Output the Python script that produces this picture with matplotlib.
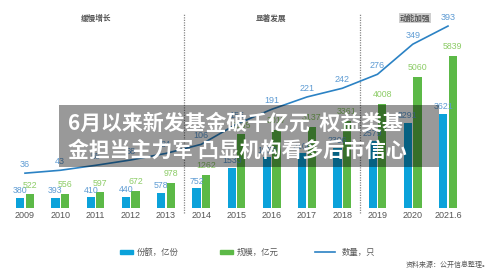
import numpy as np
import matplotlib
matplotlib.use("Agg")
import matplotlib.pyplot as plt
from matplotlib.patches import Rectangle
from matplotlib.lines import Line2D

plt.rcParams['font.family'] = ['Noto Sans CJK SC', 'DejaVu Sans']

# data (values under the banner are estimates)
years = ["2009", "2010", "2011", "2012", "2013", "2014", "2015",
         "2016", "2017", "2018", "2019", "2020", "2021.6"]
shares = [380, 393, 410, 440, 578, 752, 1533, 1950, 2100, 2306, 2579, 3291, 3621]
scale = [522, 556, 597, 672, 978, 1262, 2835, 3017, 3137, 3361, 4008, 5060, 5839]
counts = [36, 43, 55, 68, 84, 106, 155, 191, 221, 242, 276, 349, 393]
phases = ["缓慢增长", "显著发展", "动能加强"]
title_lines = ["6月以来新发基金破千亿元  权益类基", "金担当主力军 凸显机构看多后市信心"]

W, H = 500, 274
BLUE = "#0ba2da"
GREEN = "#5cb947"
LINE = "#2b82c4"
BLUE_TXT = "#5d9bd3"
GREEN_TXT = "#8ccc66"
GRAY = "#555555"


def fx(x):
    return x / W


def fy(y):
    return 1 - y / H


fig = plt.figure(figsize=(5, 2.74), dpi=100)
ax = fig.add_axes([0, 0, 1, 1])
ax2 = ax.twinx()

# x: category i sits at pixel 25 + 35.25*i
step = 35.25
ax.set_xlim(-25 / step, (W - 25) / step)
# bars: baseline at pixel 208, 38.5 units per pixel
ax.set_ylim(-(H - 208) * 38.5, 208 * 38.5)
# line: zero at pixel 188, 2.427 units per pixel
ax2.set_ylim(-(H - 188) * 2.427, 188 * 2.427)

x = np.arange(len(years))
bw = 0.235
off = 0.135
ax.bar(x - off, shares, bw, color=BLUE, zorder=2)
ax.bar(x + off, scale, bw, color=GREEN, zorder=2)

for i in range(len(years)):
    ax.annotate(str(shares[i]), (x[i] - off, shares[i]), xytext=(0, 2),
                textcoords="offset points", ha="center", va="bottom",
                fontsize=6.3, color=BLUE_TXT, family="Liberation Sans")
    ax.annotate(str(scale[i]), (x[i] + off, scale[i]), xytext=(0, 3.5),
                textcoords="offset points", ha="center", va="bottom",
                fontsize=6.3, color=GREEN_TXT, family="Liberation Sans")
    ax.text(x[i], -(216 - 208) * 38.5, years[i], ha="center", va="center",
            fontsize=6.5, color=GRAY, family="Liberation Sans")

ax2.plot(x, counts, color=LINE, lw=1.2, zorder=3)
for i in range(len(years)):
    ax2.annotate(str(counts[i]), (x[i], counts[i]), xytext=(0, 3),
                 textcoords="offset points", ha="center", va="bottom",
                 fontsize=6.5, color=BLUE_TXT, family="Liberation Sans")

# phase separators
for sx in [4.5, 9.5]:
    ax.plot([sx, sx], [-(213 - 208) * 38.5, (208 - 13) * 38.5], color="#888888",
            lw=0.9, ls=(0, (1, 1)), zorder=1)

phase_x = [96, 271, 415]
for i, p in enumerate(phases):
    kw = {}
    if i == 2:
        kw["bbox"] = dict(boxstyle="square,pad=0.1", fc="#cfcfcf", ec="none")
    fig.text(fx(phase_x[i]), fy(18), p, ha="center", va="center",
             fontsize=5.5, color=GRAY, fontweight="bold", **kw)

for a in (ax, ax2):
    a.axis("off")

# legend
fig.patches.append(Rectangle((fx(120), fy(254)), 13 / W, 4 / H, color=BLUE,
                             transform=fig.transFigure, figure=fig))
fig.text(fx(137), fy(252), "份额，亿份", fontsize=6, color=GRAY, va="center")
fig.patches.append(Rectangle((fx(220), fy(254)), 13 / W, 4 / H, color=GREEN,
                             transform=fig.transFigure, figure=fig))
fig.text(fx(237), fy(252), "规模，亿元", fontsize=6, color=GRAY, va="center")
fig.lines.append(Line2D([fx(315), fx(335)], [fy(252), fy(252)], color=LINE, lw=1.2,
                        transform=fig.transFigure, figure=fig))
fig.text(fx(342), fy(252), "数量，只", fontsize=6, color=GRAY, va="center")
fig.text(fx(490), fy(265), "资料来源：公开信息整理。", fontsize=5, color=GRAY,
         ha="right", va="center")

# headline banner
fig.patches.append(Rectangle((fx(59), fy(167)), 380 / W, 62 / H, fc="black", alpha=0.4,
                             ec="none", transform=fig.transFigure, figure=fig, zorder=10))
fig.text(fx(68), fy(123), title_lines[0], fontsize=15, color="white",
         fontweight="bold", va="center", zorder=11)
fig.text(fx(68), fy(150), title_lines[1], fontsize=15, color="white",
         fontweight="bold", va="center", zorder=11)

fig.savefig("out.png", dpi=100, facecolor="white")
